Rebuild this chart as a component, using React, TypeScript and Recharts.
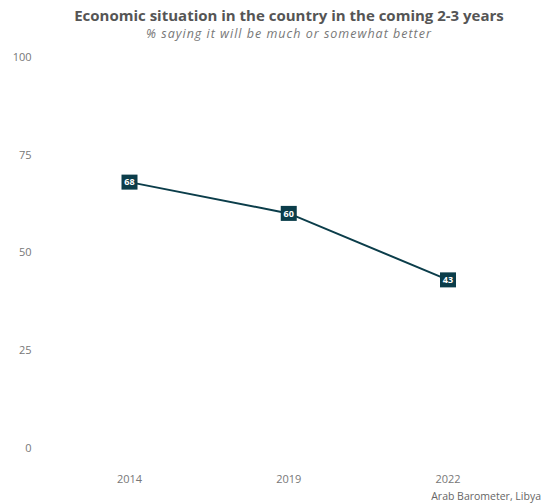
import { LineChart, Line, XAxis, YAxis, LabelList } from "recharts";

const years = ["2014", "2019", "2022"];
const better = [68, 60, 43];
const yTicks = [0, 25, 50, 75, 100];

const data = years.map((year, i) => ({ year, value: better[i] }));

const DARK = "#0b3d4a";
const FONT = "'Open Sans', 'DejaVu Sans', sans-serif";

function SquareDot(props: any) {
  const { cx, cy } = props;
  if (cx == null || cy == null) return null;
  return <rect x={cx - 8} y={cy - 7.5} width={16} height={15} fill={DARK} />;
}

function DotLabel(props: any) {
  const { x, y, value } = props;
  return (
    <text
      x={x}
      y={y}
      dy={3.2}
      textAnchor="middle"
      fill="#fff"
      fontSize={9}
      fontWeight={700}
      fontFamily={FONT}
    >
      {value}
    </text>
  );
}

export default function App() {
  return (
    <div style={{ position: "absolute", left: 0, top: 0, width: 542, height: 504, background: "#fff", fontFamily: FONT }}>
      <LineChart width={542} height={504} data={data} margin={{ top: 57, right: 14, bottom: 0, left: 0 }}>
        <text x={289} y={21} textAnchor="middle" fontSize={15} fontWeight={700} fill="#555" fontFamily={FONT}>
          Economic situation in the country in the coming 2-3 years
        </text>
        <text x={289} y={38} textAnchor="middle" fontSize={12.5} letterSpacing={1} fontStyle="italic" fill="#777" fontFamily={FONT}>
          % saying it will be much or somewhat better
        </text>
        <XAxis
          dataKey="year"
          axisLine={false}
          tickLine={false}
          tickSize={0}
          tickMargin={27}
          height={56}
          padding={{ left: 80, right: 80 }}
          tick={{ fill: "#777", fontSize: 11, fontFamily: FONT }}
        />
        <YAxis
          domain={[0, 100]}
          ticks={yTicks}
          axisLine={false}
          tickLine={false}
          tickSize={0}
          tickMargin={18}
          width={49.5}
          tick={{ fill: "#777", fontSize: 11, fontFamily: FONT }}
        />
        <Line
          type="linear"
          dataKey="value"
          stroke={DARK}
          strokeWidth={2}
          dot={<SquareDot />}
          activeDot={false}
          isAnimationActive={false}
        >
          <LabelList dataKey="value" content={<DotLabel />} />
        </Line>
        <text x={541} y={500} textAnchor="end" fontSize={10.5} fill="#666" fontFamily={FONT}>
          Arab Barometer, Libya
        </text>
      </LineChart>
    </div>
  );
}
